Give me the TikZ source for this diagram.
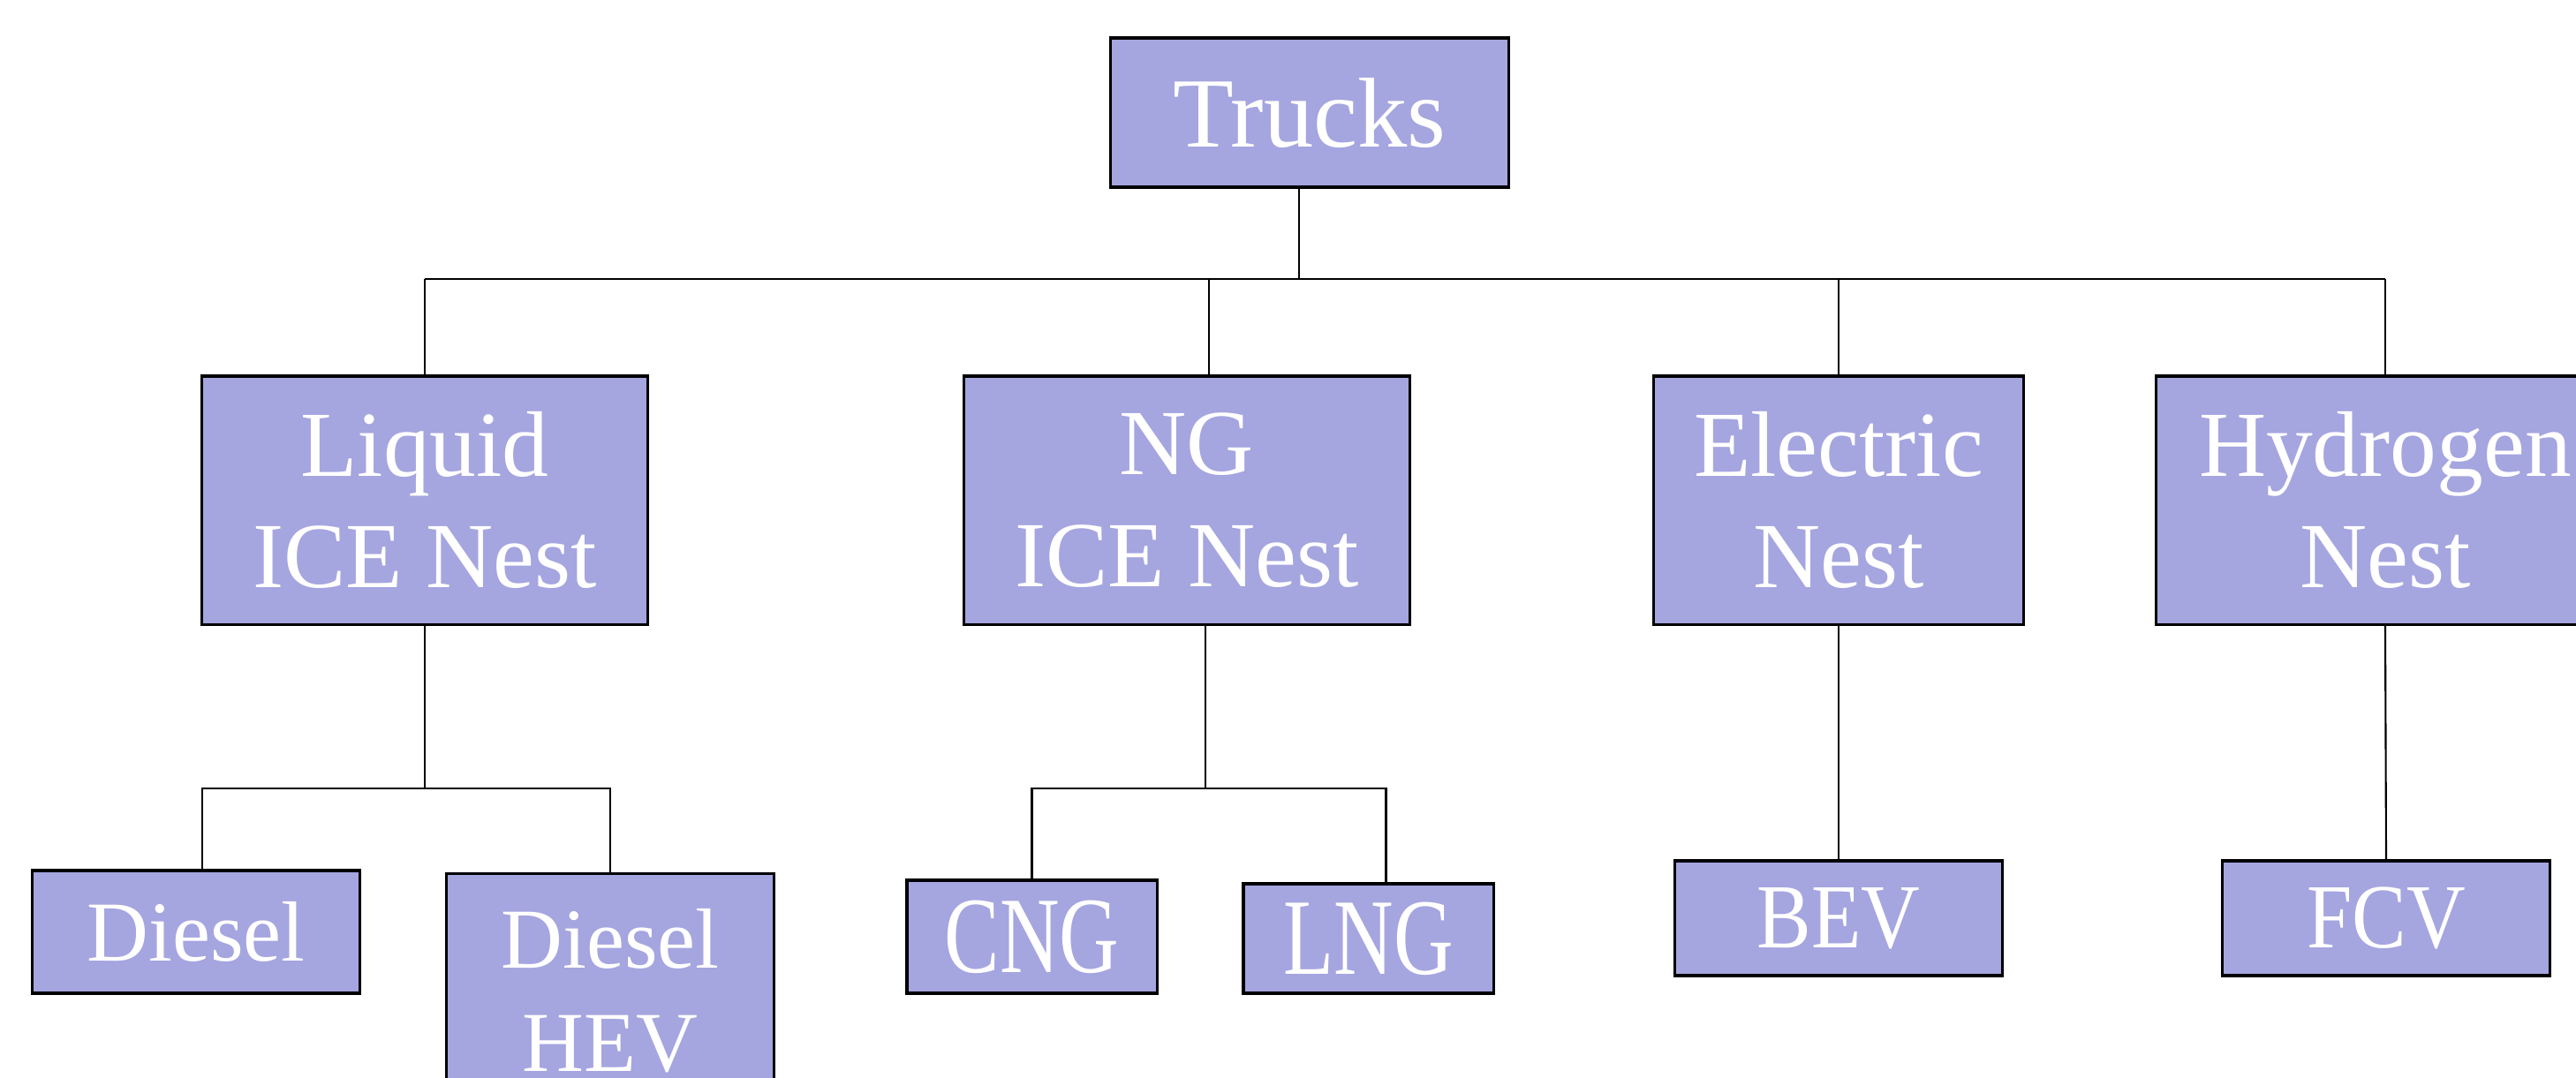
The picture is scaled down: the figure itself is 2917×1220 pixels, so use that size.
\documentclass[tikz,border=0pt]{standalone}
\usepackage{fontspec}
\setmainfont{Liberation Serif}
\usepackage{graphicx}
\definecolor{nestblue}{RGB}{165,165,224}

\begin{document}
\begin{tikzpicture}[
  x=0.01cm, y=-0.01cm,
  box/.style={draw, line width=0.9pt, fill=nestblue, text=white,
              align=center, inner sep=0pt},
  nest/.style={box, minimum height=2.81cm, font=\fontsize{30}{36}\selectfont},
  leaf/.style={box, font=\fontsize{27.5}{33}\selectfont},
  link/.style={line width=0.6pt}
]
  \clip (0,0) rectangle (2917,1220);

  % Root
  \node[box, minimum width=4.5cm, minimum height=1.69cm,
        font=\fontsize{32}{38}\selectfont] (trucks) at (1483,127.5) {Trucks};

  % Nests
  \node[nest, minimum width=5.04cm] (liquid)   at ( 481,566.5) {Liquid\\ICE Nest};
  \node[nest, minimum width=5.04cm] (ng)       at (1344,566.5) {NG\\ICE Nest};
  \node[nest, minimum width=4.19cm] (electric) at (2082,566.5) {Electric\\Nest};
  \node[nest, minimum width=5.18cm] (hydrogen) at (2701,566.5) {Hydrogen\\Nest};

  % Technologies
  \node[leaf, minimum width=3.7cm, minimum height=1.39cm] (diesel) at (222,1055.5) {Diesel};
  \node[leaf, minimum width=3.7cm, minimum height=2.65cm, anchor=north] (dhev) at (691,988) {Diesel\\HEV};
  \node[leaf, minimum width=2.83cm, minimum height=1.28cm,
        font=\fontsize{35}{40}\selectfont] (cng) at (1168.5,1061) {\scalebox{0.76}[1]{CNG}};
  \node[leaf, minimum width=2.83cm, minimum height=1.24cm,
        font=\fontsize{35}{40}\selectfont] (lng) at (1549.5,1063) {\scalebox{0.76}[1]{LNG}};
  \node[leaf, minimum width=3.7cm, minimum height=1.3cm,
        font=\fontsize{29.5}{35}\selectfont] (bev) at (2082,1040) {\scalebox{0.89}[1]{BEV}};
  \node[leaf, minimum width=3.7cm, minimum height=1.3cm,
        font=\fontsize{29.5}{35}\selectfont] (fcv) at (2702,1040) {\scalebox{0.89}[1]{FCV}};

  % Buses
  \coordinate (topbus) at (0,316);
  \coordinate (lowbus) at (0,893);

  \draw[link] (liquid.north |- topbus) -- (hydrogen.north |- topbus);
  \draw[link] ([xshift=-0.12cm]trucks.south) -- ([xshift=-0.12cm]trucks.south |- topbus);
  \draw[link] (liquid.north) -- (liquid.north |- topbus);
  \draw[link] ([xshift=0.25cm]ng.north) -- ([xshift=0.25cm]ng.north |- topbus);
  \draw[link] (electric.north) -- (electric.north |- topbus);
  \draw[link] (hydrogen.north) -- (hydrogen.north |- topbus);

  \draw[link] (liquid.south) -- (liquid.south |- lowbus);
  \draw[link] ([xshift=0.07cm]diesel.north) -- ([xshift=0.07cm]diesel.north |- lowbus) -| (dhev.north);
  \draw[link] ([xshift=0.21cm]ng.south) -- ([xshift=0.21cm]ng.south |- lowbus);
  \draw[link] (cng.north) -- (cng.north |- lowbus) -| ([xshift=0.2cm]lng.north);
  \draw[link] (electric.south) -- (bev.north);
  \draw[link] (hydrogen.south) -- (fcv.north);
\end{tikzpicture}
\end{document}
